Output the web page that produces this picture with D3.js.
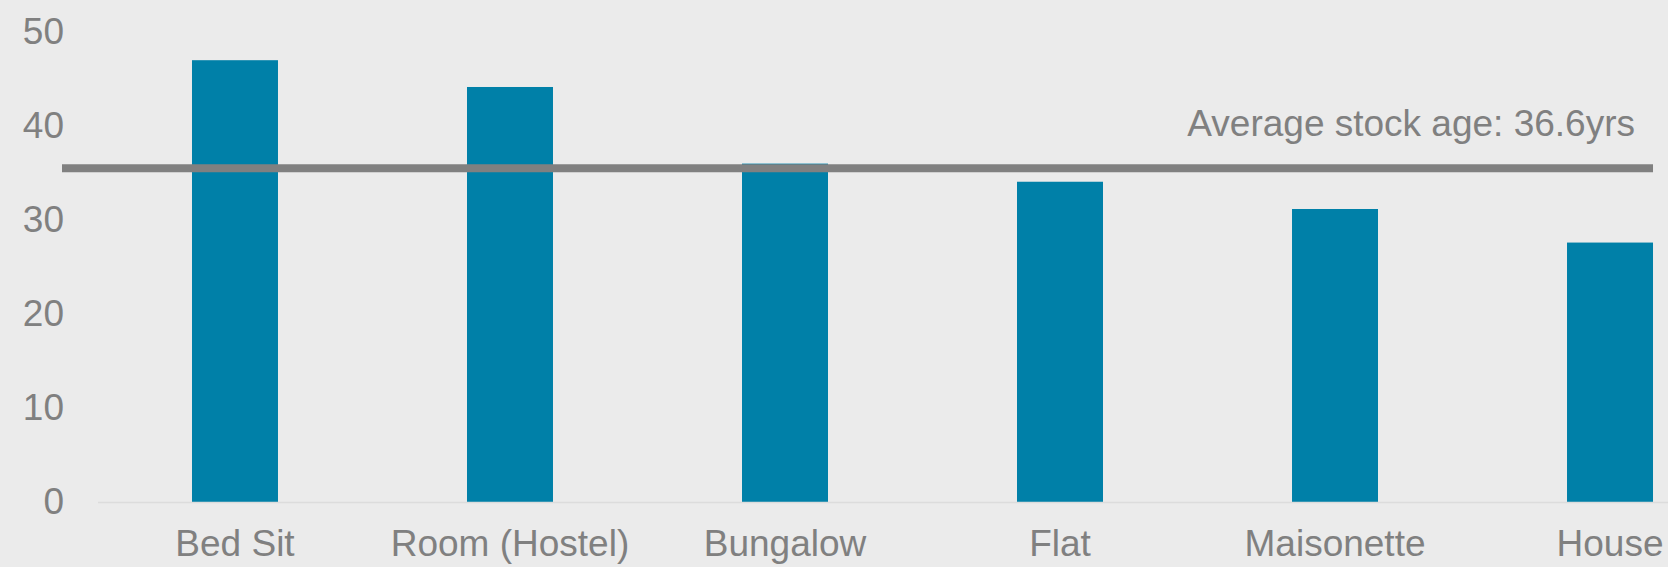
<!DOCTYPE html>
<html>
<head>
<meta charset="utf-8">
<script src="https://cdn.jsdelivr.net/npm/d3@7"></script>
<style>
  html, body { margin: 0; padding: 0; background: #ebebeb; overflow: hidden; }
  svg { display: block; }
</style>
</head>
<body>
<div class="box"></div>
<script>
// Data
const categories = ["Bed Sit", "Room (Hostel)", "Bungalow", "Flat", "Maisonette", "House"];
const ages = [47.0, 44.15, 36.0, 34.07, 31.17, 27.6];
const yTicks = [0, 10, 20, 30, 40, 50];
const averageAge = 35.5;
const averageLabel = "Average stock age: 36.6yrs";

// Vars for the svg "box"
const w = 1668;
const h = 567;

const svg = d3.select(".box")
    .append("svg")
    .attr("width", w)
    .attr("height", h)
    .style("font-family", "'Liberation Sans', Arial, sans-serif");

svg.append("rect")
    .attr("width", w)
    .attr("height", h)
    .attr("fill", "#ebebeb");

// Scales - the plot runs past the right edge, like the original
const xScale = d3.scaleBand()
    .domain(categories)
    .range([97.5, 1747.5])
    .paddingInner(0.6873)
    .paddingOuter(0.3436);

const yScale = d3.scaleLinear()
    .domain([0, 50])
    .range([502, 32]);

// Y axis labels only, no line
const yAxis = d3.axisLeft(yScale)
    .tickValues(yTicks)
    .tickSize(0)
    .tickPadding(0);

const gy = svg.append("g")
    .attr("transform", "translate(64,0)")
    .call(yAxis);
gy.select(".domain").remove();
gy.selectAll("text")
    .attr("fill", "#808080")
    .style("font-size", "37px")
    .style("font-family", "'Liberation Sans', Arial, sans-serif");

// Bars
svg.selectAll(".bar")
    .data(ages)
    .enter()
    .append("rect")
    .attr("class", "bar")
    .attr("x", (d, i) => xScale(categories[i]))
    .attr("y", d => yScale(d))
    .attr("width", xScale.bandwidth())
    .attr("height", d => yScale(0) - yScale(d))
    .attr("fill", "#0080a8");

// X axis along the bottom
const xAxis = d3.axisBottom(xScale)
    .tickSize(0)
    .tickPadding(28)
    .tickSizeOuter(0);

const gx = svg.append("g")
    .attr("transform", "translate(0," + yScale(0) + ")")
    .call(xAxis);
gx.select(".domain")
    .attr("stroke", "#dcdcdc")
    .attr("stroke-width", 1.5);
gx.selectAll("text")
    .attr("fill", "#808080")
    .style("font-size", "37px")
    .style("font-family", "'Liberation Sans', Arial, sans-serif");

// Average line, runs to the right edge of the last bar
svg.append("line")
    .attr("x1", 62)
    .attr("x2", xScale(categories[5]) + xScale.bandwidth())
    .attr("y1", yScale(averageAge))
    .attr("y2", yScale(averageAge))
    .attr("stroke", "#808080")
    .attr("stroke-width", 8);

svg.append("text")
    .attr("x", 1635)
    .attr("y", 136)
    .attr("text-anchor", "end")
    .attr("fill", "#808080")
    .style("font-size", "37px")
    .text(averageLabel);
</script>
</body>
</html>
